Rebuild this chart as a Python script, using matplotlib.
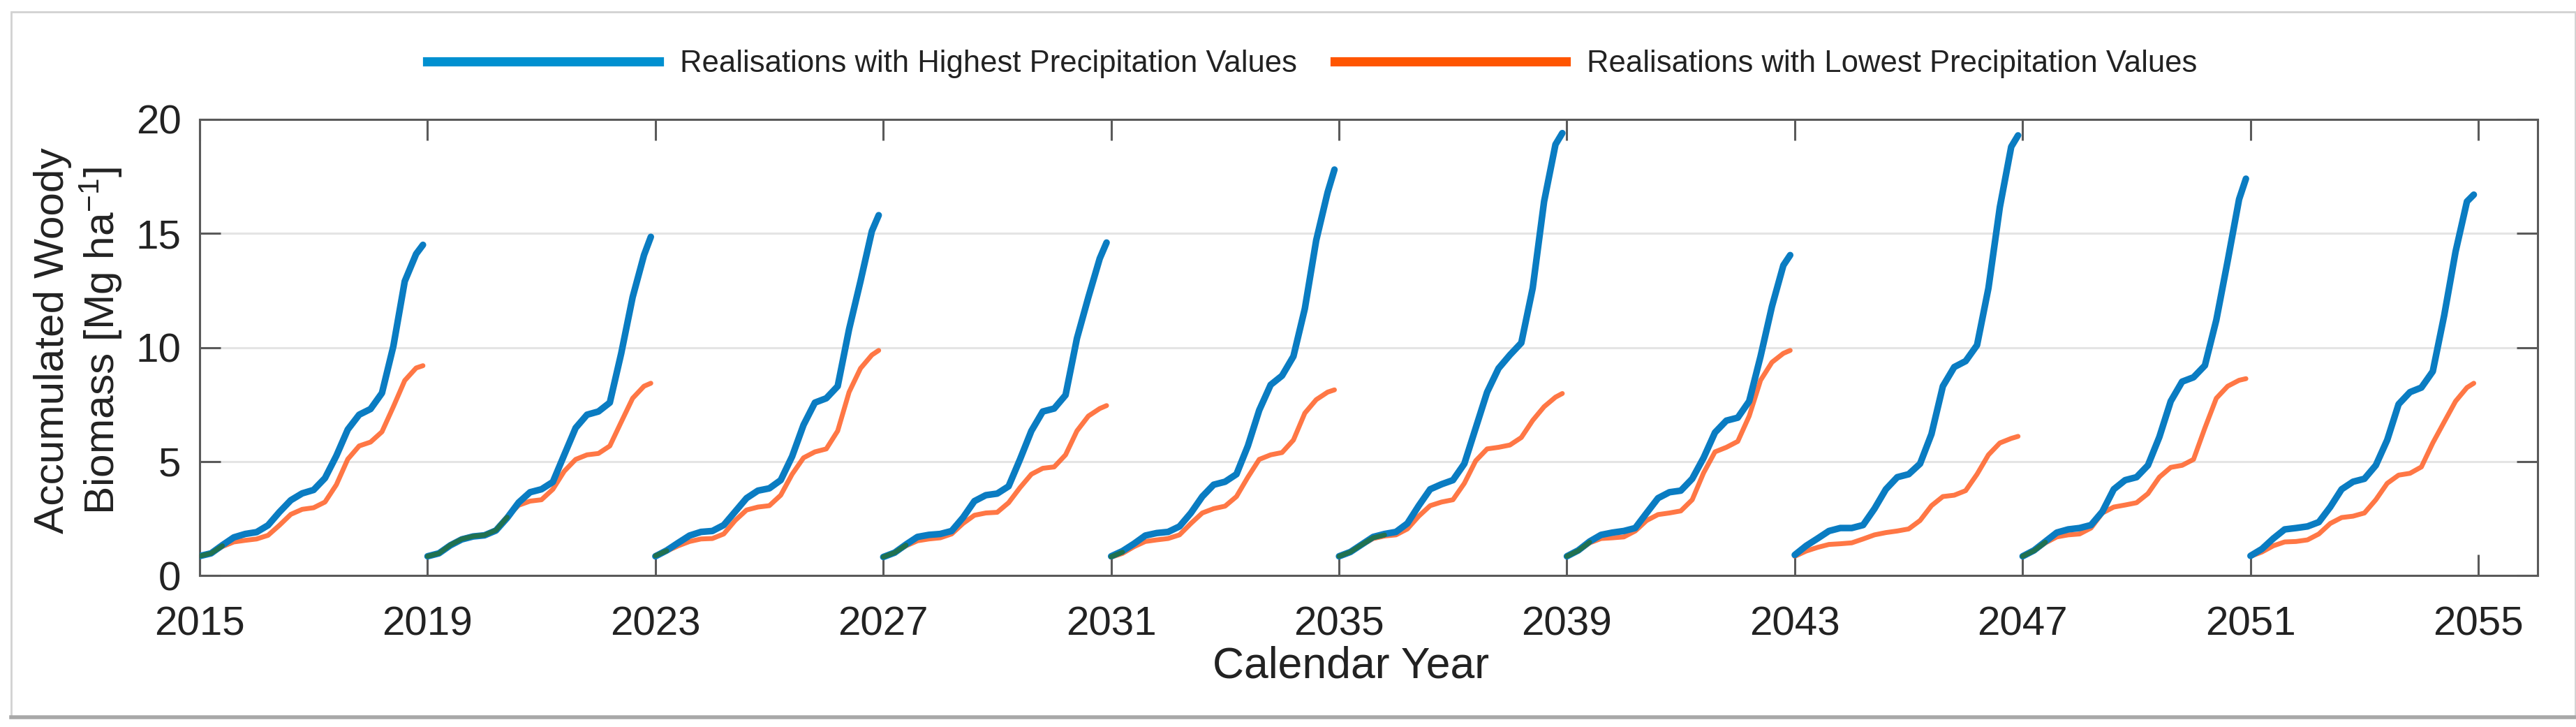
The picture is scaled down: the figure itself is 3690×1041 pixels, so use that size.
import numpy as np
import matplotlib
matplotlib.use("Agg")
import matplotlib.pyplot as plt
from matplotlib.lines import Line2D
from matplotlib.patches import Rectangle

plt.rcParams['font.family'] = ['Liberation Sans', 'DejaVu Sans']
plt.rcParams['mathtext.fontset'] = 'custom'
plt.rcParams['mathtext.rm'] = 'Liberation Sans'
plt.rcParams['mathtext.it'] = 'Liberation Sans'

# ---------------- data ----------------
cycle_starts = [2015, 2019, 2023, 2027, 2031, 2035, 2039, 2043, 2047, 2051]
# years since the start of each 4-year realisation
t_offsets = [0.0, 0.2, 0.4, 0.6, 0.8, 1.0, 1.2, 1.4, 1.6, 1.8, 2.0,
             2.2, 2.4, 2.6, 2.8, 3.0, 3.2, 3.4, 3.6, 3.8, 3.92]

high_2015 = [0.85, 0.97, 1.33, 1.67, 1.82, 1.90, 2.20, 2.78, 3.30, 3.60, 3.75, 4.27, 5.25, 6.40, 7.05, 7.30, 8.00, 10.05, 12.90, 14.10, 14.50]
low_2015 = [0.85, 0.97, 1.27, 1.47, 1.54, 1.60, 1.76, 2.20, 2.68, 2.90, 2.97, 3.22, 3.98, 5.10, 5.68, 5.85, 6.30, 7.40, 8.55, 9.10, 9.20]

high_2019 = [0.84, 0.97, 1.32, 1.58, 1.71, 1.76, 1.97, 2.53, 3.20, 3.65, 3.78, 4.10, 5.29, 6.47, 7.05, 7.19, 7.58, 9.74, 12.20, 14.05, 14.85]
low_2019 = [0.84, 0.97, 1.35, 1.61, 1.73, 1.78, 2.00, 2.58, 3.08, 3.26, 3.32, 3.78, 4.57, 5.09, 5.29, 5.35, 5.68, 6.73, 7.77, 8.30, 8.43]

high_2023 = [0.84, 1.10, 1.43, 1.75, 1.91, 1.95, 2.21, 2.80, 3.39, 3.72, 3.82, 4.18, 5.22, 6.60, 7.58, 7.77, 8.30, 10.80, 12.90, 15.10, 15.80]
low_2023 = [0.88, 1.07, 1.30, 1.49, 1.60, 1.62, 1.82, 2.41, 2.87, 3.00, 3.06, 3.52, 4.44, 5.16, 5.42, 5.55, 6.34, 8.04, 9.08, 9.67, 9.87]

high_2027 = [0.81, 1.00, 1.36, 1.69, 1.78, 1.82, 1.95, 2.54, 3.26, 3.52, 3.59, 3.91, 5.09, 6.34, 7.19, 7.32, 7.91, 10.40, 12.20, 13.90, 14.60]
low_2027 = [0.81, 1.00, 1.30, 1.52, 1.60, 1.65, 1.82, 2.28, 2.64, 2.74, 2.77, 3.19, 3.85, 4.44, 4.70, 4.76, 5.29, 6.34, 6.99, 7.32, 7.45]

high_2031 = [0.84, 1.07, 1.39, 1.75, 1.86, 1.91, 2.15, 2.74, 3.46, 3.98, 4.11, 4.44, 5.68, 7.25, 8.36, 8.76, 9.61, 11.70, 14.70, 16.80, 17.80]
low_2031 = [0.80, 0.97, 1.26, 1.49, 1.56, 1.62, 1.78, 2.28, 2.74, 2.93, 3.04, 3.46, 4.31, 5.09, 5.29, 5.39, 5.94, 7.12, 7.71, 8.04, 8.14]

high_2035 = [0.84, 1.03, 1.36, 1.69, 1.82, 1.91, 2.28, 3.06, 3.78, 4.00, 4.18, 4.90, 6.47, 8.04, 9.08, 9.67, 10.20, 12.60, 16.40, 18.90, 19.40]
low_2035 = [0.84, 1.03, 1.34, 1.62, 1.73, 1.78, 2.04, 2.60, 3.06, 3.22, 3.32, 4.04, 5.03, 5.55, 5.62, 5.72, 6.05, 6.80, 7.40, 7.82, 7.98]

high_2039 = [0.84, 1.10, 1.49, 1.78, 1.88, 1.95, 2.08, 2.74, 3.39, 3.65, 3.72, 4.24, 5.16, 6.27, 6.79, 6.92, 7.64, 9.61, 11.80, 13.60, 14.05]
low_2039 = [0.84, 1.07, 1.43, 1.62, 1.65, 1.69, 1.95, 2.41, 2.67, 2.74, 2.83, 3.32, 4.50, 5.42, 5.62, 5.88, 6.99, 8.56, 9.35, 9.74, 9.87]

high_2043 = [0.90, 1.30, 1.62, 1.95, 2.08, 2.08, 2.21, 2.93, 3.78, 4.31, 4.44, 4.90, 6.20, 8.30, 9.14, 9.40, 10.10, 12.60, 16.15, 18.80, 19.30]
low_2043 = [0.84, 1.07, 1.23, 1.36, 1.39, 1.43, 1.60, 1.78, 1.88, 1.95, 2.04, 2.41, 3.06, 3.46, 3.52, 3.72, 4.44, 5.29, 5.81, 6.01, 6.10]

high_2047 = [0.84, 1.10, 1.49, 1.88, 2.02, 2.08, 2.21, 2.80, 3.78, 4.18, 4.31, 4.83, 6.07, 7.64, 8.50, 8.69, 9.21, 11.20, 13.80, 16.50, 17.40]
low_2047 = [0.84, 1.07, 1.43, 1.69, 1.78, 1.82, 2.08, 2.74, 3.00, 3.09, 3.19, 3.59, 4.31, 4.74, 4.83, 5.09, 6.47, 7.77, 8.30, 8.56, 8.63]

high_2051 = [0.86, 1.16, 1.62, 2.02, 2.08, 2.15, 2.34, 3.00, 3.78, 4.11, 4.24, 4.83, 5.94, 7.51, 8.04, 8.24, 8.95, 11.40, 14.20, 16.40, 16.70]
low_2051 = [0.84, 1.03, 1.30, 1.47, 1.49, 1.56, 1.82, 2.28, 2.54, 2.60, 2.74, 3.32, 4.04, 4.40, 4.48, 4.76, 5.81, 6.73, 7.64, 8.24, 8.43]

high_series = [high_2015, high_2019, high_2023, high_2027, high_2031,
               high_2035, high_2039, high_2043, high_2047, high_2051]
low_series = [low_2015, low_2019, low_2023, low_2027, low_2031,
              low_2035, low_2039, low_2043, low_2047, low_2051]

x_ticks = list(range(2015, 2056, 4))
y_ticks = [0, 5, 10, 15, 20]
legend_labels = ['Realisations with Highest Precipitation Values',
                 'Realisations with Lowest Precipitation Values']

# ---------------- styling ----------------
BLUE = '#0a7cc2'
ORANGE = '#ff5f24'
GREEN = '#237044'
AXCOL = '#5a5a5a'
TXT = '#222222'

W, H = 3691, 1041
fig = plt.figure(figsize=(W / 100, H / 100), dpi=100)
fig.patch.set_facecolor('white')

ax = fig.add_axes([286 / W, 1 - 824 / H, (3635 - 286) / W, (824 - 171) / H])

t = np.array(t_offsets)
for start, hi, lo in zip(cycle_starts, high_series, low_series):
    x = start + t
    hi = np.array(hi)
    lo = np.array(lo)
    ax.plot(x, lo, color=ORANGE, lw=5.0, alpha=0.85, solid_capstyle='round',
            solid_joinstyle='round', zorder=3)
    ax.plot(x, hi, color=BLUE, lw=6.8, solid_capstyle='round',
            solid_joinstyle='round', zorder=4)
    overlap = np.where(np.abs(hi - lo) <= 0.12, (hi + lo) / 2, np.nan)
    ax.plot(x, overlap, color=GREEN, lw=5.0, alpha=0.9, solid_capstyle='round',
            solid_joinstyle='round', zorder=5)

ax.set_xlim(2015, 2056.04)
ax.set_ylim(0, 20)
ax.set_xticks(x_ticks)
ax.set_yticks(y_ticks)
ax.tick_params(axis='both', direction='in', length=21.5, width=2.2, color=AXCOL,
               labelsize=42, labelcolor=TXT, top=True, right=True)
ax.tick_params(axis='x', pad=31)
ax.tick_params(axis='y', pad=19)
for sp in ax.spines.values():
    sp.set_color(AXCOL)
    sp.set_linewidth(2.2)
ax.yaxis.grid(True, color='#e4e4e4', lw=2.2)
ax.set_axisbelow(True)

fig.text(113 / W, 1 - 488 / H, 'Accumulated Woody\nBiomass [Mg ha$^{-1}$]',
         rotation=90, ha='center', va='center', multialignment='center',
         fontsize=43.5, color=TXT, linespacing=1.15)
fig.text(1935 / W, 1 - 954 / H, 'Calendar Year', ha='center', va='center',
         fontsize=45, color=TXT)

handles = [Line2D([], [], color='#0090d0', lw=9.5),
           Line2D([], [], color='#ff5500', lw=9.5)]
fig.legend(handles, legend_labels, loc='center', bbox_to_anchor=(1880 / W, 1 - 92 / H),
           ncol=2, frameon=False, fontsize=31.4, handlelength=7.6,
           handletextpad=0.69, columnspacing=1.23, labelcolor=TXT)

# figure frame
fig.add_artist(Rectangle((16 / W, 1 - 1027 / H), (3689 - 16) / W, (1027 - 17) / H,
                         transform=fig.transFigure, fill=False,
                         edgecolor='#d2d2d2', lw=2))
fig.add_artist(Line2D([16 / W, 3689 / W], [1 - 1027 / H, 1 - 1027 / H],
                      transform=fig.transFigure, color='#a8a8a8', lw=4))

fig.savefig('out.png', dpi=100, facecolor='white')
